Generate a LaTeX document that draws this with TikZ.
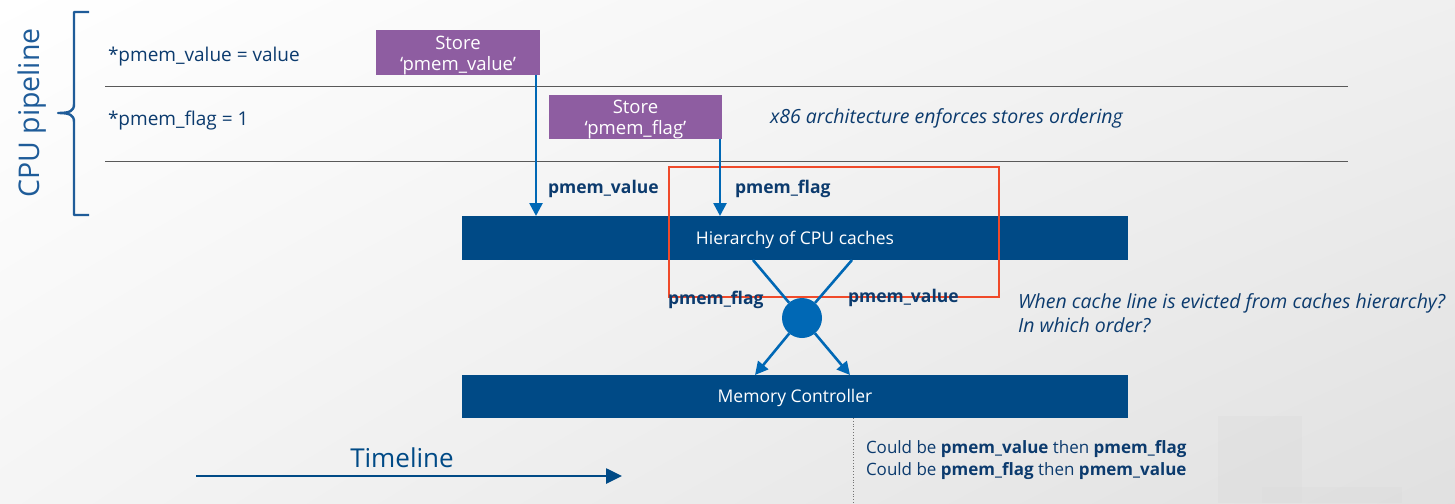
\documentclass[tikz,border=0pt]{standalone}
\usepackage{fontspec}
\setmainfont{Open Sans}
\usetikzlibrary{arrows.meta,shadings}
\definecolor{boxblue}{HTML}{004A86}
\definecolor{arrblue}{HTML}{0068B5}
\definecolor{navy}{HTML}{0C3B6E}
\definecolor{pipeblue}{HTML}{1F5C99}
\definecolor{storepurple}{HTML}{8E5DA1}
\definecolor{focusred}{HTML}{F04A2A}
\tikzset{
  every node/.style={inner sep=0pt, outer sep=0pt},
  bigbox/.style={fill=boxblue, minimum width=666pt, minimum height=44pt, text=white, text height=12.5pt, text depth=0pt, font=\fontsize{17.5}{20}\selectfont},
  storebox/.style={fill=storepurple, text=white, align=center, font=\fontsize{18.5}{21}\selectfont},
  code/.style={anchor=base west, text=navy, font=\fontsize{19}{22}\selectfont},
  lbl/.style={anchor=base west, text=navy, font=\bfseries\fontsize{17.5}{20}\selectfont},
  note/.style={anchor=base west, text=navy, font=\itshape\fontsize{19.5}{23}\selectfont},
  outcome/.style={anchor=base west, text=navy, font=\fontsize{17}{22}\selectfont},
  flow/.style={draw=arrblue, line width=2.6pt, -{Triangle[length=13pt,width=13pt]}},
  plainflow/.style={draw=arrblue, line width=2.6pt},
  rule/.style={draw=black!65, line width=1pt},
}
\begin{document}
\begin{tikzpicture}[x=1pt,y=-1pt]
\useasboundingbox (0,0) rectangle (1455,503);
\shade[upper left=white, upper right=black!6, lower left=black!4, lower right=black!12] (0,0) rectangle (1455,503);
\fill[black!14, opacity=0.35] (1218,416) rectangle (1302,503);
\fill[black!14, opacity=0.35] (1262,487) rectangle (1402,503);

% brace and pipeline label
\draw[pipeblue, line width=2.4pt, line join=round] (89,12) -- (74,12) -- (74,104) .. controls (74,111) and (70,113) .. (58,113) .. controls (70,113) and (74,115) .. (74,122) -- (74,215) -- (89,215);
\node[rotate=90, text=pipeblue, font=\fontsize{28.5}{32}\selectfont] (pipe) at (32,113) {CPU pipeline};

% rows
\node[code] (c1) at (108,61) {*pmem\_value = value};
\node[code] (c2) at (108,125) {*pmem\_flag = 1};
\coordinate (r1a) at (105,86); \coordinate (r1b) at (1348,86);
\coordinate (r2a) at (105,161); \coordinate (r2b) at (1348,161);
\draw[rule] (r1a) -- (r1b);
\draw[rule] (r2a) -- (r2b);

\node[storebox, minimum width=164pt, minimum height=43pt] (s1) at (458,52.5) {\rule{0pt}{19pt}Store\\‘pmem\_value’};
\node[storebox, minimum width=173pt, minimum height=44pt] (s2) at (635.5,117) {\rule{0pt}{18.5pt}Store\\‘pmem\_flag’};
\node[note] (x86) at (770,123) {x86 architecture enforces stores ordering};

% caches
\node[bigbox] (cache) at (795,238) {Hierarchy of CPU caches};
\node[bigbox, minimum height=43pt] (mem) at (795,396.5) {Memory Controller};
\node[draw=focusred, line width=1.3pt, minimum width=330pt, minimum height=130pt] (focus) at (834,232) {};

\coordinate (xa) at (536,0);
\coordinate (xb) at (720,0);
\draw[flow] (xa |- s1.south) -- (xa |- cache.north);
\draw[flow] (xb |- s2.south) -- (xb |- cache.north);
\node[lbl] (lv1) at (548,193) {pmem\_value};
\node[lbl] (lf1) at (735,193.5) {pmem\_flag};

\node[circle, fill=arrblue, minimum size=40pt] (dot) at (802,318) {};
\coordinate (xl) at (753,0);
\coordinate (xr) at (852,0);
\draw[plainflow] (xl |- cache.south) -- (dot);
\draw[plainflow] (xr |- cache.south) -- (dot);
\coordinate (ml) at (755,0);
\coordinate (mr) at (850,0);
\draw[flow] (dot) -- (ml |- mem.north);
\draw[flow] (dot) -- (mr |- mem.north);
\node[lbl] (lf2) at (668,304.5) {pmem\_flag};
\node[lbl] (lv2) at (848,302) {pmem\_value};

\node[note] (q1) at (1018,308) {When cache line is evicted from caches hierarchy?};
\node[note] (q2) at (1018,332) {In which order?};

% outcomes
\coordinate (dt) at (853,0);
\draw[black!55, line width=0.8pt, dotted] (dt |- mem.south) -- (853,503);
\node[outcome] (o1) at (866,453) {Could be \textbf{pmem\_value} then \textbf{pmem\_flag}};
\node[outcome] (o2) at (866,475) {Could be \textbf{pmem\_flag} then \textbf{pmem\_value}};

% timeline
\node[anchor=base, text=boxblue, font=\fontsize{26}{32}\selectfont] (tl) at (402,467) {Timeline};
\coordinate (t0) at (196,476);
\coordinate (t1) at (622,476);
\draw[draw=boxblue, line width=2.6pt, -{Triangle[length=16pt,width=15pt]}] (t0) -- (t1);
\end{tikzpicture}
\end{document}
